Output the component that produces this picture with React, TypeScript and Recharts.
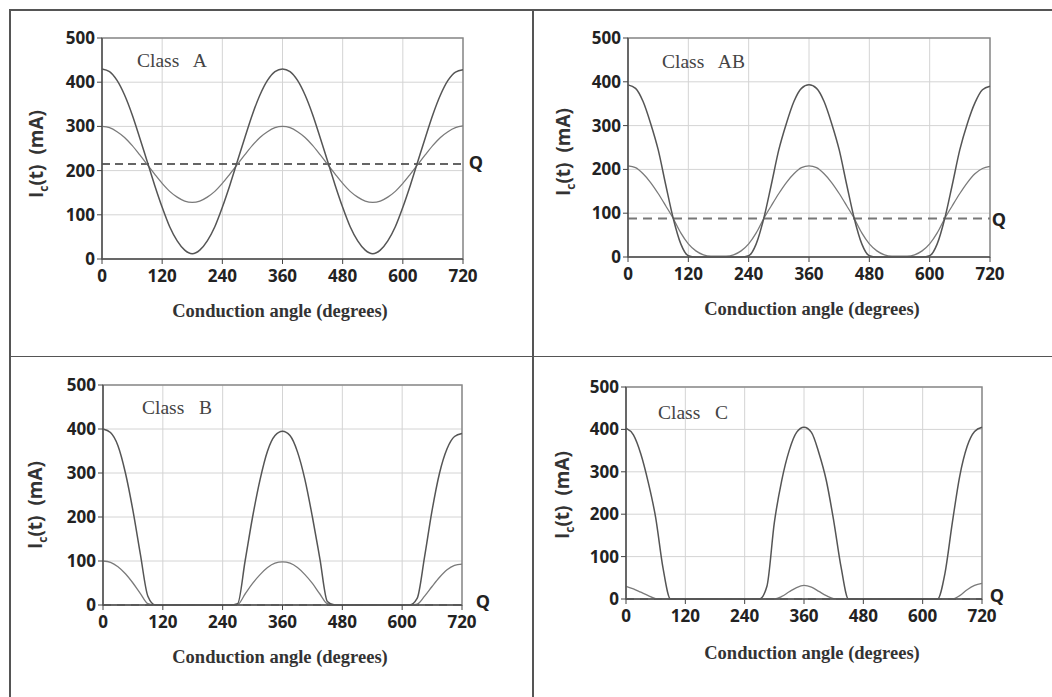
import React from "react";
import { LineChart, Line, XAxis, YAxis, CartesianGrid, ReferenceLine, ReferenceArea } from "recharts";

const angles = [0,15,30,45,60,75,90,105,120,135,150,165,180,195,210,225,240,255,270,285,300,315,330,345,360,375,390,405,420,435,450,465,480,495,510,525,540,555,570,585,600,615,630,645,660,675,690,705,720];
const xTicks = [0,120,240,360,480,600,720];
const yTicks = [0,100,200,300,400,500];

const classABig = [430,424,404,371,327,275,221,167,117,73,41,20,12, 20,41,73,117,167,221,275,327,371,404,424,430, 424,404,371,327,275,221,167,117,73,41,20,12, 20,41,73,117,167,221,275,327,371,404,423,428];
const classASmall = [300,297,288,275,257,236,214,192,171,153,140,131,128, 131,140,153,171,192,214,236,257,275,288,297,300, 297,288,275,257,236,214,192,171,153,140,131,128, 131,140,153,171,192,214,236,257,275,288,297,301];
const classAQ = 215;

const classABBig = [393,385,355,305,245,165,88,30,3,0,0,0,0, 0,0,0,3,30,88,165,245,305,355,385,393, 385,355,305,245,165,88,30,3,0,0,0,0, 0,0,0,3,30,88,165,245,305,352,382,390];
const classABSmall = [208,204,190,170,145,117,88,55,30,14,5,2,2, 2,5,14,30,55,88,117,145,170,190,204,208, 204,190,170,145,117,88,55,30,14,5,2,2, 2,5,14,30,55,88,117,145,170,190,202,207];
const classABQ = 88;

const classBBig = [400,392,362,300,215,115,20,0,0,0,0,0,0, 0,0,0,0,0,3,100,200,285,350,385,395, 385,348,285,200,105,8,0,0,0,0,0,0, 0,0,0,0,0,15,110,215,300,355,383,390];
const classBSmall = [100,97,87,71,50,26,3,0,0,0,0,0,0, 0,0,0,0,0,1,25,49,69,85,95,98, 95,85,69,49,25,3,0,0,0,0,0,0, 0,0,0,0,0,2,20,42,63,80,90,93];
const classBQ = 0;

const classCBig = [403,387,342,275,192,72,0,0,0,0,0,0,0, 0,0,0,0,0,0,30,180,280,350,393,405, 393,345,280,185,75,0,0,0,0,0,0,0, 0,0,0,0,0,0,60,180,290,360,395,405];
const classCSmall = [30,24,16,8,1,0,0,0,0,0,0,0,0, 0,0,0,0,0,0,0,0,6,17,27,32, 28,18,8,1,0,0,0,0,0,0,0,0, 0,0,0,0,0,0,0,0,8,22,32,37];
const classCQ = 0;

const xTitle = "Conduction angle (degrees)";

const tickFont = { fill: "#222", fontSize: 17, fontWeight: 700, fontFamily: "'Open Sans', sans-serif" };

type PanelProps = {
  L: number; R: number; T: number; B: number;
  big: number[]; small: number[]; q: number;
  qColor: string; qDash: string; qWidth: number;
};

function Panel({ L, R, T, B, big, small, q, qColor, qDash, qWidth }: PanelProps) {
  const data = angles.map((a, i) => ({ angle: a, big: big[i], small: small[i] }));
  return (
    <div style={{ position: "absolute", left: L - 60, top: T - 20 }}>
      <LineChart width={R - L + 80} height={B - T + 60} data={data} margin={{ top: 20, right: 20, left: 10, bottom: 10 }}>
        <CartesianGrid stroke="#d4d4d4" strokeWidth={1} />
        <XAxis type="number" dataKey="angle" domain={[0, 720]} ticks={xTicks} interval={0} height={30}
          tick={tickFont} tickSize={5} tickMargin={6} tickLine={{ stroke: "#444" }}
          axisLine={{ stroke: "#555", strokeWidth: 1.5 }} />
        <YAxis type="number" domain={[0, 500]} ticks={yTicks} interval={0} width={50}
          tick={tickFont} tickSize={5} tickMargin={2} tickLine={{ stroke: "#444" }}
          axisLine={{ stroke: "#555", strokeWidth: 1.5 }} />
        <ReferenceArea x1={0} x2={720} y1={0} y2={500} fill="none" stroke="#8a8a8a" strokeWidth={1.5} ifOverflow="visible" />
        <ReferenceLine y={q} stroke={qColor} strokeDasharray={qDash} strokeWidth={qWidth} ifOverflow="visible" />
        <Line type="monotone" dataKey="small" stroke="#7a7a7a" strokeWidth={1.3} dot={false} isAnimationActive={false} />
        <Line type="monotone" dataKey="big" stroke="#555" strokeWidth={1.5} dot={false} isAnimationActive={false} />
      </LineChart>
    </div>
  );
}

function Centered({ x, y, style, children }: { x: number; y: number; style?: React.CSSProperties; children: React.ReactNode }) {
  return (
    <div style={{ position: "absolute", left: x, top: y, transform: "translate(-50%, -50%)", whiteSpace: "pre", lineHeight: 1, ...style }}>
      {children}
    </div>
  );
}

function YTitle({ x, y }: { x: number; y: number }) {
  return (
    <div style={{ position: "absolute", left: x, top: y, transform: "translate(-50%, -50%) rotate(-90deg)", whiteSpace: "pre", lineHeight: 1,
      fontFamily: "'Open Sans', sans-serif", fontWeight: 700, fontSize: 19, color: "#333" }}>
      I<span style={{ fontSize: 12, position: "relative", top: 5 }}>c</span>(t)  (mA)
    </div>
  );
}

const classStyle: React.CSSProperties = { fontFamily: "'Liberation Serif', 'Times New Roman', serif", fontSize: 19.5, color: "#444" };
const xTitleStyle: React.CSSProperties = { fontFamily: "'Liberation Serif', serif", fontWeight: 700, fontSize: 18.5, color: "#333" };
const qStyle: React.CSSProperties = { fontFamily: "'Open Sans', sans-serif", fontWeight: 700, fontSize: 18, color: "#222" };

const line = "#555";

export default function App() {
  return (
    <div style={{ position: "absolute", left: 0, top: 0, width: 1052, height: 697, background: "#fff", overflow: "hidden" }}>
      <div style={{ position: "absolute", left: 9, top: 9, width: 1043, height: 1.5, background: line }} />
      <div style={{ position: "absolute", left: 9, top: 9, width: 1.5, height: 688, background: line }} />
      <div style={{ position: "absolute", left: 532, top: 9, width: 1.5, height: 688, background: line }} />
      <div style={{ position: "absolute", left: 9, top: 355.5, width: 1043, height: 1.5, background: line }} />

      <Panel L={102} R={463} T={38} B={259} big={classABig} small={classASmall} q={classAQ} qColor="#333" qDash="8 5" qWidth={1.5} />
      <Panel L={628} R={990} T={38} B={257} big={classABBig} small={classABSmall} q={classABQ} qColor="#777" qDash="9 6" qWidth={2} />
      <Panel L={103} R={462} T={385} B={605} big={classBBig} small={classBSmall} q={classBQ} qColor="#555" qDash="8 6" qWidth={1.5} />
      <Panel L={626} R={982} T={387} B={599} big={classCBig} small={classCSmall} q={classCQ} qColor="#555" qDash="8 6" qWidth={1.5} />

      <div style={{ position: "absolute", left: 137, top: 51, whiteSpace: "pre", lineHeight: 1, ...classStyle }}>{"Class   A"}</div>
      <div style={{ position: "absolute", left: 662, top: 52, whiteSpace: "pre", lineHeight: 1, ...classStyle }}>{"Class   AB"}</div>
      <div style={{ position: "absolute", left: 142, top: 398, whiteSpace: "pre", lineHeight: 1, ...classStyle }}>{"Class   B"}</div>
      <div style={{ position: "absolute", left: 658, top: 403, whiteSpace: "pre", lineHeight: 1, ...classStyle }}>{"Class   C"}</div>

      <Centered x={280} y={311} style={xTitleStyle}>{xTitle}</Centered>
      <Centered x={812} y={309} style={xTitleStyle}>{xTitle}</Centered>
      <Centered x={280} y={657} style={xTitleStyle}>{xTitle}</Centered>
      <Centered x={812} y={653} style={xTitleStyle}>{xTitle}</Centered>

      <YTitle x={36} y={154} />
      <YTitle x={563} y={152} />
      <YTitle x={35} y={505} />
      <YTitle x={562} y={495} />

      <Centered x={476} y={162} style={qStyle}>Q</Centered>
      <Centered x={999} y={219} style={qStyle}>Q</Centered>
      <Centered x={483} y={601} style={qStyle}>Q</Centered>
      <Centered x={997} y={595} style={qStyle}>Q</Centered>
    </div>
  );
}
